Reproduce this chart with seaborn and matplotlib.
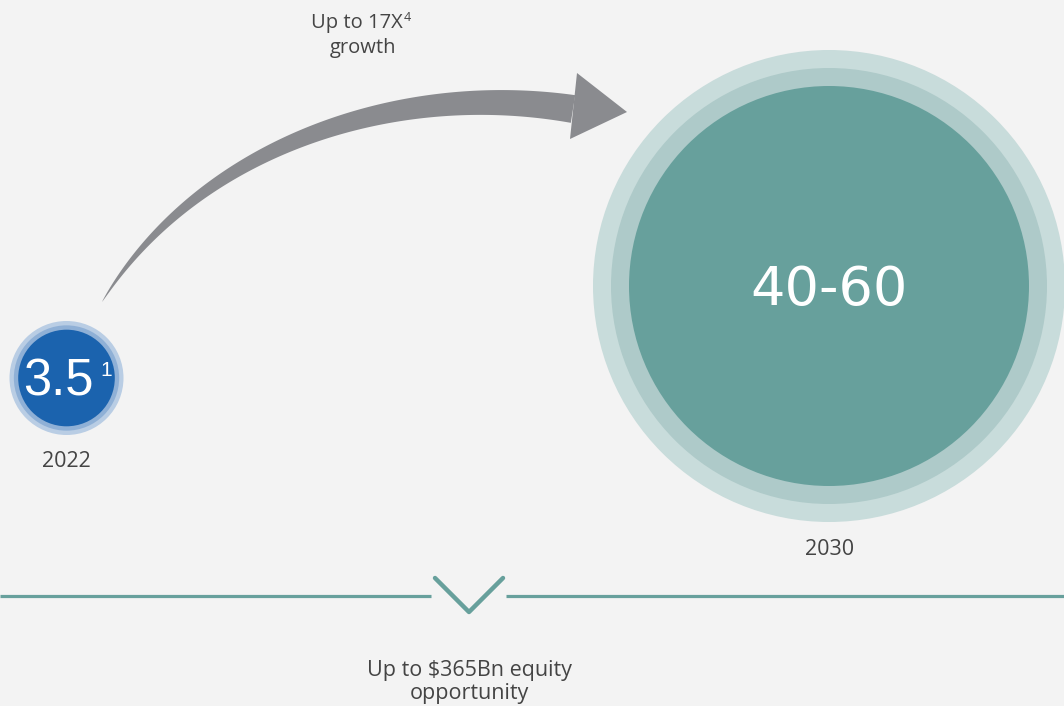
import numpy as np
import pandas as pd
import matplotlib
matplotlib.use("Agg")
import matplotlib.pyplot as plt
from matplotlib.patches import Circle, Polygon
import seaborn as sns

# Values shown in the two bubbles
years = ["2022", "2030"]
value_low = [3.5, 40]
value_high = [3.5, 60]
value_labels = ["3.5", "40-60"]
value_notes = ["1", ""]
growth_label = ["Up to 17X", "growth"]
growth_note = "4"
equity_label = ["Up to $365Bn equity", "opportunity"]

BG = "#f3f3f3"
TXT = "#444444"
TEAL = "#67a09c"

sns.set_theme(style="white", rc={"figure.facecolor": BG, "axes.facecolor": BG})
plt.rcParams["font.family"] = ["Liberation Sans", "DejaVu Sans"]

fig = plt.figure(figsize=(10.64, 7.06), dpi=100)
ax = fig.add_axes([0, 0, 1, 1])
ax.set_xlim(0, 1064)
ax.set_ylim(706, 0)
ax.set_aspect("equal")
ax.axis("off")

# bubble radius scales with sqrt of the (upper) value
k = 200 / np.sqrt(60)
centers = [(66.5, 378), (829, 286)]
ring_cols = [["#b9cde4", "#8fb0d6", "#1b63ae"], ["#c8dcdb", "#aecac9", TEAL]]
ring_scale = [1.18, 1.09, 1.0]
for (cx, cy), hi, cols in zip(centers, value_high, ring_cols):
    r = k * np.sqrt(hi)
    for s, c in zip(ring_scale, cols):
        ax.add_patch(Circle((cx, cy), r * s, facecolor=c, edgecolor="none", zorder=2))

# value labels
ax.text(58.5, 395, value_labels[0], ha="center", va="baseline", color="white",
        fontsize=36.5, zorder=5)
ax.text(100, 376, value_notes[0], ha="left", va="baseline", color="white",
        fontsize=15, zorder=5)
ax.text(829, 305, value_labels[1], ha="center", va="baseline", color="white",
        fontsize=39, family=["DejaVu Sans"], zorder=5)

lab_font = ["Open Sans", "DejaVu Sans"]
ax.text(66.5, 467, years[0], ha="center", va="baseline", color=TXT, fontsize=15.5, family=lab_font)
ax.text(829.5, 555, years[1], ha="center", va="baseline", color=TXT, fontsize=15.5, family=lab_font)

# growth arrow: tapered cubic Bezier body + triangular head
P = np.array([[102, 302], [195, 150], [390, 80], [573, 109]], dtype=float)
t = np.linspace(0, 1, 200)[:, None]
curve = ((1 - t) ** 3) * P[0] + 3 * ((1 - t) ** 2) * t * P[1] + 3 * (1 - t) * t ** 2 * P[2] + t ** 3 * P[3]
d = 3 * ((1 - t) ** 2) * (P[1] - P[0]) + 6 * (1 - t) * t * (P[2] - P[1]) + 3 * t ** 2 * (P[3] - P[2])
d /= np.linalg.norm(d, axis=1, keepdims=True)
nrm = np.column_stack([d[:, 1], -d[:, 0]])
hw = 14 * t[:, 0] ** 0.75
upper = curve + nrm * hw[:, None]
lower = curve - nrm * hw[:, None]
body = np.vstack([upper, lower[::-1]])
ax.add_patch(Polygon(body, closed=True, facecolor="#8a8b8f", edgecolor="none", zorder=3))
ax.add_patch(Polygon([[577, 73], [627, 112], [570, 139]], closed=True,
                     facecolor="#8a8b8f", edgecolor="none", zorder=3))

ax.text(357, 28, growth_label[0], ha="center", va="baseline", color=TXT, fontsize=14.5, family=lab_font)
ax.text(404, 21, growth_note, ha="left", va="baseline", color=TXT, fontsize=9, family=lab_font)
ax.text(363, 53, growth_label[1], ha="center", va="baseline", color=TXT, fontsize=14.5, family=lab_font)

# divider with chevron
div = pd.DataFrame({
    "x": [0, 431, np.nan, 506, 1064],
    "y": [596, 596, np.nan, 596, 596],
})
ax.plot(div["x"], div["y"], color=TEAL, lw=2.3, solid_capstyle="butt", zorder=2)
chev = pd.DataFrame({"x": [435, 469, 503], "y": [578, 612, 578]})
sns.lineplot(data=chev, x="x", y="y", sort=False, ax=ax, color=TEAL, lw=3.2,
             estimator=None, zorder=2)
ax.set_xlim(0, 1064)
ax.set_ylim(706, 0)
ax.axis("off")

ax.text(469, 676, equity_label[0], ha="center", va="baseline", color=TXT, fontsize=15.5, family=lab_font)
ax.text(469, 699, equity_label[1], ha="center", va="baseline", color=TXT, fontsize=15.5, family=lab_font)

fig.savefig("out.png", dpi=100, facecolor=BG)
